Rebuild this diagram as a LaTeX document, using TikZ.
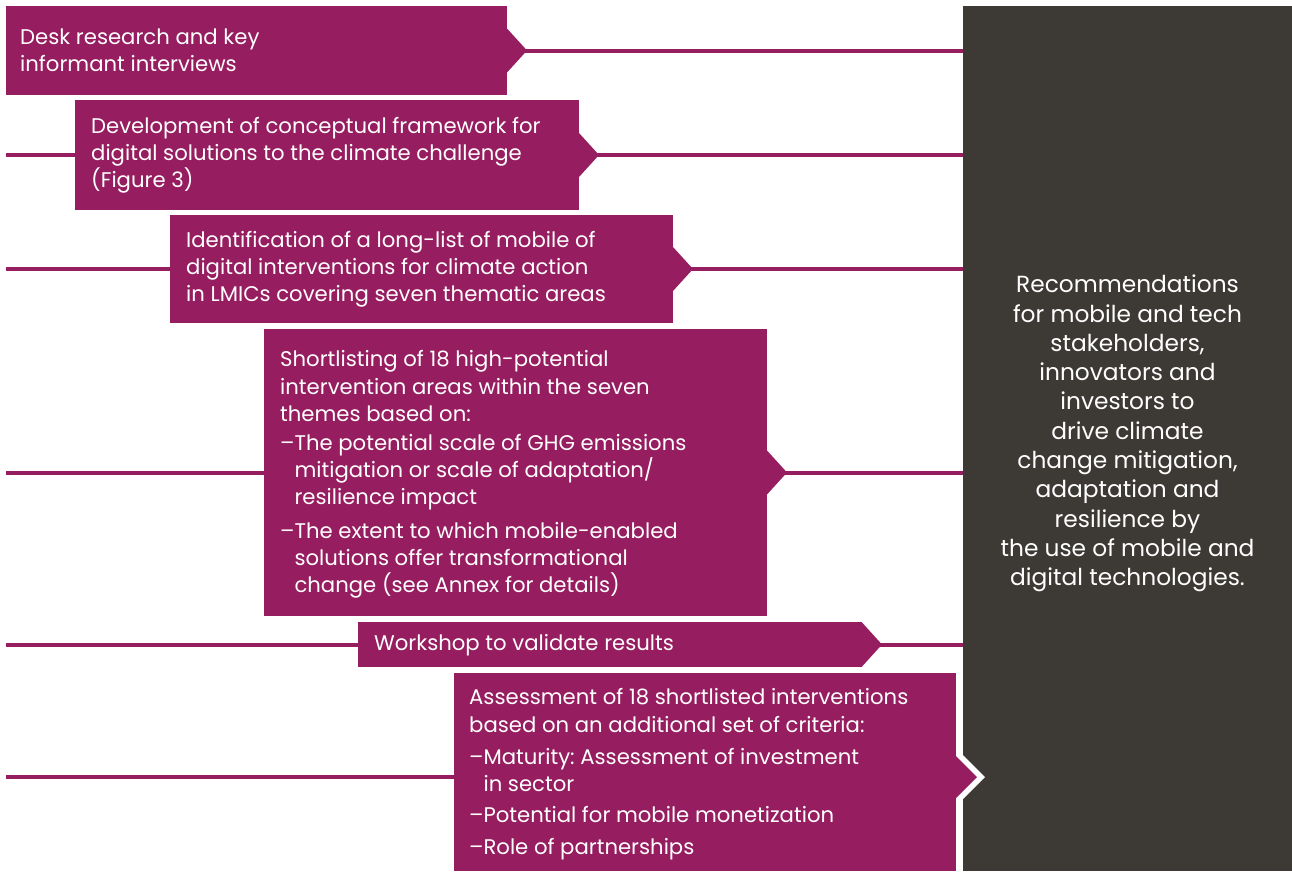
\documentclass[tikz,border=0pt]{standalone}
\usepackage{fontspec}
\setmainfont{Poppins}
\frenchspacing
\definecolor{mag}{RGB}{150,29,96}
\definecolor{dark}{RGB}{61,57,53}
\pgfdeclarelayer{bg}
\pgfsetlayers{bg,main}
\begin{document}
\begin{tikzpicture}[x=1pt,y=-1pt,
  box/.style={fill=mag, draw=none, inner sep=0pt, outer sep=0pt, anchor=north west},
  txt/.style={text=white, inner sep=0pt, align=left, anchor=west, font=\fontsize{21.2}{27.2}\selectfont},
  conn/.style={draw=mag, line width=4pt},
  notch/.style={fill=mag}]
\useasboundingbox (0,0) rectangle (1292,871);
% dark recommendation box
\node[fill=dark, inner sep=0pt, outer sep=0pt, anchor=north west, minimum width=329pt, minimum height=865pt] (D) at (963,6) {};
\node[text=white, align=center, font=\fontsize{23.3}{29.3}\selectfont] (T) at (1127.5,433.5)
 {Recommendations\\for mobile and tech\\stakeholders,\\innovators and\\investors to\\drive climate\\change mitigation,\\adaptation and\\resilience by\\the use of mobile and\\digital technologies.};
% boxes
\node[box, minimum width=501pt, minimum height=89pt] (b1) at (6,6) {};
\node[box, minimum width=504pt, minimum height=110pt] (b2) at (75,100) {};
\node[box, minimum width=503pt, minimum height=108pt] (b3) at (170,215) {};
\node[box, minimum width=503pt, minimum height=287pt] (b4) at (264,329) {};
\node[box, minimum width=504pt, minimum height=45pt] (b5) at (358,622) {};
\node[box, minimum width=502pt, minimum height=198pt] (b6) at (454,673) {};
% notches
\foreach \b in {b1,b2,b3,b4,b5}{
  \fill[notch] (\b.east) ++(0,-22) -- ++(20,22) -- ++(-20,22) -- cycle;
}
\coordinate (c6) at (956,777);
\fill[white] (c6) ++(0,-29) -- ++(29,29) -- ++(-29,29) -- cycle;
\fill[notch] (c6) ++(0,-21) -- ++(21,21) -- ++(-21,21) -- cycle;
% texts
\node[txt] (t1) at ([xshift=14pt]b1.west) {Desk research and key\\informant interviews};
\node[txt] (t2) at ([xshift=16pt]b2.west) {Development of conceptual framework for\\digital solutions to the climate challenge\\(Figure 3)};
\node[txt] (t3) at ([xshift=16pt]b3.west) {Identification of a long-list of mobile of\\digital interventions for climate action\\in LMICs covering seven thematic areas};
\node[txt] (t4) at ([xshift=16pt,yshift=-2pt]b4.west) {Shortlisting of 18 high-potential\\intervention areas within the seven\\themes based on:\\[2pt]–The potential scale of GHG emissions\\\hphantom{–}mitigation or scale of adaptation/\\\hphantom{–}resilience impact\\[6pt]–The extent to which mobile-enabled\\\hphantom{–}solutions offer transformational\\\hphantom{–}change (see Annex for details)};
\node[txt] (t5) at ([xshift=16pt,yshift=-1pt]b5.west) {Workshop to validate results};
\node[txt] (t6) at ([xshift=15pt,yshift=-2.5pt]b6.west) {Assessment of 18 shortlisted interventions\\based on an additional set of criteria:\\[5pt]–Maturity: Assessment of investment\\\hphantom{–}in sector\\[4pt]–Potential for mobile monetization\\[5pt]–Role of partnerships};
% connectors
\coordinate (l2) at (6,155);
\coordinate (l3) at (6,269);
\coordinate (l4) at (6,472.5);
\coordinate (l5) at (6,644.5);
\coordinate (l6) at (6,777);
\begin{pgfonlayer}{bg}
\foreach \b in {b1,b2,b3,b4,b5}{
  \draw[conn] (\b.east) -- (\b.east -| D.west);
}
\draw[conn] (l2) -- (b2.west);
\draw[conn] (l3) -- (b3.west);
\draw[conn] (l4) -- (b4.west);
\draw[conn] (l5) -- (b5.west);
\draw[conn] (l6) -- (l6 -| b6.west);
\end{pgfonlayer}
\end{tikzpicture}
\end{document}
